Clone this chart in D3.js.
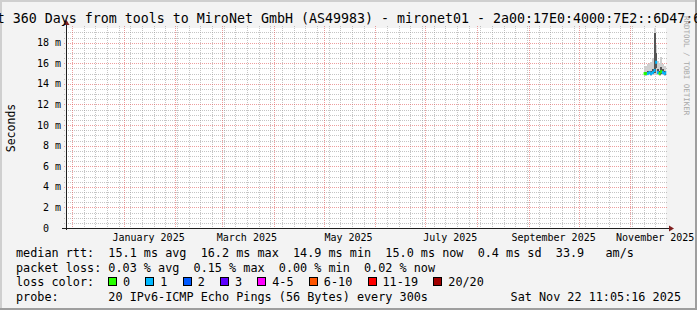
<!DOCTYPE html>
<html>
<head>
<meta charset="utf-8">
<script src="https://cdn.jsdelivr.net/npm/d3@7/dist/d3.min.js"></script>
<style>
  body { margin: 0; background: #f3f3f3; }
  text { font-family: "DejaVu Sans Mono", monospace; white-space: pre; fill: #000; }
</style>
</head>
<body>
<svg id="chart" width="697" height="310"></svg>
<script>
// ---- data ----
var titleText = "Last 360 Days from tools to MiroNet GmbH (AS49983) - mironet01 - 2a00:17E0:4000:7E2::6D47:6001";
var endText = "Sat Nov 22 11:05:16 2025";

var days    = ["2025-11-09","2025-11-10","2025-11-11","2025-11-12","2025-11-13","2025-11-14","2025-11-15",
               "2025-11-16","2025-11-17","2025-11-18","2025-11-19","2025-11-20","2025-11-21","2025-11-22"];
// values in ms
var median  = [15.0, 15.0, 15.0, 15.1, 15.0, 15.1, 15.3, 16.1, 15.1, 15.0, 15.2, 15.1, 15.0, 15.1];
var loss    = [0, 0, 1, 1, 1, 1, 1, 1, 1, 0, 0, 1, 1, 1];
var pingMin = [14.8, 14.8, 14.9, 14.9, 14.8, 14.9, 14.9, 15.0, 14.9, 14.8, 14.9, 14.9, 14.8, 14.9];
var pingLo  = [14.9, 14.9, 15.0, 15.0, 14.9, 15.0, 15.1, 15.5, 15.0, 14.9, 15.0, 15.0, 14.9, 15.0];
var pingHi  = [15.2, 15.2, 15.3, 15.3, 15.3, 15.4, 18.9, 17.0, 15.4, 15.3, 15.6, 15.4, 15.3, 15.3];
var pingMax = [15.6, 15.7, 15.9, 16.0, 16.1, 16.5, 19.4, 17.8, 16.2, 16.0, 16.6, 15.9, 15.7, 15.6];

var yTicks = [0, 2, 4, 6, 8, 10, 12, 14, 16, 18];
var xLabelMonths = ["2025-01", "2025-03", "2025-05", "2025-07", "2025-09", "2025-11"];

var lossLabels = ["0", "1", "2", "3", "4-5", "6-10", "11-19", "20/20"];
var lossColors = ["#26ff00", "#00b8ff", "#0059ff", "#5e00ff", "#ff00fe", "#ff5500", "#ff0000", "#a10000"];

var statRtt  = "median rtt:  15.1 ms avg  16.2 ms max  14.9 ms min  15.0 ms now  0.4 ms sd  33.9   am/s";
var statLoss = "packet loss: 0.03 % avg  0.15 % max  0.00 % min  0.02 % now";
var probeTxt = "probe:       20 IPv6-ICMP Echo Pings (56 Bytes) every 300s";

// ---- layout ----
var W = 697, H = 310;
var gLeft = 66, gRight = 666, gTop = 28, gBottom = 228;
var cw = 7.12; // legend char width

var svg = d3.select("#chart");
var parseDay = d3.timeParse("%Y-%m-%d");
var parseMonth = d3.timeParse("%Y-%m");

var endTime = new Date(2025, 10, 22, 11, 5, 16);
var startTime = d3.timeDay.offset(endTime, -360);

var x = d3.scaleTime().domain([startTime, endTime]).range([gLeft, gRight]);
var y = d3.scaleLinear().domain([0, 19.43]).range([gBottom, gTop]);

// frame
svg.append("rect").attr("width", W).attr("height", H).attr("fill", "#f3f3f3");
svg.append("path").attr("d", "M0,0H" + W + "V2H2V" + H + "H0Z").attr("fill", "#cfcfcf");
svg.append("path").attr("d", "M" + W + "," + H + "H0V" + (H - 2) + "H" + (W - 2) + "V0H" + W + "Z").attr("fill", "#9e9e9e");

// canvas
svg.append("rect")
    .attr("x", gLeft).attr("y", gTop)
    .attr("width", gRight - gLeft).attr("height", gBottom - gTop)
    .attr("fill", "#fff");

var grid = svg.append("g").attr("shape-rendering", "crispEdges");
var minorCol = "rgba(150,150,150,0.55)", majorCol = "rgba(222,79,79,0.55)";

// minor horizontal grid (0.5 m)
d3.range(0, 19.43, 0.5).forEach(function(v){
  if (v % 2 === 0) return;
  var yy = Math.round(y(v)) + 0.5;
  grid.append("line").attr("x1", gLeft - 2).attr("x2", gRight + 2).attr("y1", yy).attr("y2", yy)
      .attr("stroke", minorCol).attr("stroke-dasharray", "1,1");
});
// minor vertical grid (weeks)
d3.timeWeek.range(startTime, endTime).forEach(function(d){
  if (d.getDate() === 1) return;
  var xx = Math.round(x(d)) + 0.5;
  grid.append("line").attr("x1", xx).attr("x2", xx).attr("y1", gTop - 2).attr("y2", gBottom + 2)
      .attr("stroke", minorCol).attr("stroke-dasharray", "1,1");
});
// major horizontal grid
yTicks.forEach(function(v){
  if (v === 0) return;
  var yy = Math.round(y(v)) + 0.5;
  grid.append("line").attr("x1", gLeft - 2).attr("x2", gRight + 2).attr("y1", yy).attr("y2", yy)
      .attr("stroke", majorCol).attr("stroke-dasharray", "1,1");
});
// major vertical grid (months)
d3.timeMonth.range(startTime, endTime).forEach(function(d){
  var xx = Math.round(x(d)) + 0.5;
  grid.append("line").attr("x1", xx).attr("x2", xx).attr("y1", gTop - 2).attr("y2", gBottom + 2)
      .attr("stroke", majorCol).attr("stroke-dasharray", "1,1");
});

// y labels
svg.append("g").selectAll("text").data(yTicks).enter().append("text")
    .attr("x", 61).attr("y", function(d){ return y(d) + 3.5; })
    .attr("text-anchor", "end")
    .style("font-size", "10px")
    .text(function(d){ return d === 0 ? "0\u00a0\u00a0" : d + " m"; });

// x labels
var fmtMonth = d3.timeFormat("%B %Y");
svg.append("g").selectAll("text").data(xLabelMonths).enter().append("text")
    .attr("x", function(d){ return x(d3.timeDay.offset(parseMonth(d), 15)); })
    .attr("y", 241)
    .attr("text-anchor", "middle")
    .style("font-size", "10px")
    .text(function(d){ return fmtMonth(parseMonth(d)); });

// smoke
var pts = days.map(function(d, i){
  var t0 = parseDay(d);
  var t1 = i < days.length - 1 ? parseDay(days[i + 1]) : endTime;
  return {t0: t0, t1: t1, med: median[i], loss: loss[i], mn: pingMin[i], lo: pingLo[i], hi: pingHi[i], mx: pingMax[i]};
});
var smoke = svg.append("g").attr("shape-rendering", "crispEdges");
smoke.selectAll(".outer").data(pts).enter().append("rect")
    .attr("x", function(d){ return x(d.t0); })
    .attr("width", function(d){ return x(d.t1) - x(d.t0) + 0.3; })
    .attr("y", function(d){ return y(d.mx); })
    .attr("height", function(d){ return y(d.mn) - y(d.mx); })
    .attr("fill", "#cfcfcf");
smoke.selectAll(".inner").data(pts).enter().append("rect")
    .attr("x", function(d){ return x(d.t0); })
    .attr("width", function(d){ return x(d.t1) - x(d.t0) + 0.3; })
    .attr("y", function(d){ return y(d.hi); })
    .attr("height", function(d){ return y(d.lo) - y(d.hi); })
    .attr("fill", "#555");

// median line coloured by loss
svg.append("g").selectAll("line").data(pts).enter().append("line")
    .attr("x1", function(d){ return x(d.t0); })
    .attr("x2", function(d){ return x(d.t1) + 0.3; })
    .attr("y1", function(d){ return y(d.med); })
    .attr("y2", function(d){ return y(d.med); })
    .attr("stroke", function(d){ return lossColors[d.loss]; })
    .attr("stroke-width", 3);

// axes with arrows
svg.append("line").attr("x1", gLeft + 0.5).attr("x2", gLeft + 0.5).attr("y1", gBottom + 2).attr("y2", gTop - 4)
    .attr("stroke", "#1f1f1f").attr("shape-rendering", "crispEdges");
svg.append("line").attr("x1", gLeft - 4).attr("x2", gRight + 4).attr("y1", gBottom + 0.5).attr("y2", gBottom + 0.5)
    .attr("stroke", "#1f1f1f").attr("shape-rendering", "crispEdges");
svg.append("path").attr("d", "M" + (gLeft - 2.5) + "," + (gTop - 3) + "L" + (gLeft + 3.5) + "," + (gTop - 3) + "L" + (gLeft + 0.5) + "," + (gTop - 8) + "Z")
    .attr("fill", "#7f1f1f");
svg.append("path").attr("d", "M" + (gRight + 3) + "," + (gBottom - 2.5) + "L" + (gRight + 3) + "," + (gBottom + 3.5) + "L" + (gRight + 8) + "," + (gBottom + 0.5) + "Z")
    .attr("fill", "#7f1f1f");

// title
svg.append("text").attr("x", -27.3).attr("y", 23).style("font-size", "13.3px").text(titleText);

// y axis title
svg.append("text")
    .attr("transform", "translate(15," + ((gTop + gBottom) / 2) + ") rotate(-90)")
    .attr("text-anchor", "middle")
    .style("font-size", "11.5px")
    .text("Seconds");

// watermark
svg.append("text")
    .attr("transform", "translate(684,16) rotate(90)")
    .style("font-size", "7.5px")
    .style("fill", "#a8a8a8")
    .text("RRDTOOL / TOBI OETIKER");

// legend
var lg = svg.append("g").style("font-size", "11.8px");
lg.append("text").attr("x", 16).attr("y", 257).text(statRtt);
lg.append("text").attr("x", 16).attr("y", 271.5).text(statLoss);
lg.append("text").attr("x", 16).attr("y", 286).text("loss color:");
lg.append("text").attr("x", 16).attr("y", 300.5).text(probeTxt);
lg.append("text").attr("x", 681).attr("y", 300.5).attr("text-anchor", "end").text(endText);

var cursor = 108;
lossLabels.forEach(function(lab, i){
  lg.append("rect").attr("x", cursor + 0.5).attr("y", 277.5).attr("width", 8).attr("height", 8)
      .attr("fill", lossColors[i]).attr("stroke", "#000").attr("shape-rendering", "crispEdges");
  lg.append("text").attr("x", cursor + 15).attr("y", 286).text(lab);
  cursor += 15 + lab.length * cw + 15.2;
});
</script>
</body>
</html>
